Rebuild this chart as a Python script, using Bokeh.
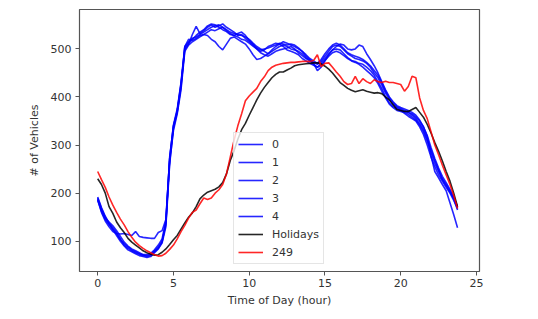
from bokeh.plotting import figure
from bokeh.models import Legend, LegendItem, FixedTicker, Range1d
from bokeh.embed import file_html
from bokeh.resources import INLINE

# time grid (15-minute bins)
hours = [i * 0.25 for i in range(96)]

blue0 = [192, 170, 152, 138, 128, 118, 105, 92, 85, 80, 76, 73, 70, 70, 72, 80,
         88, 100, 135, 275, 340, 370, 420, 505, 515, 522, 525, 530, 535, 540, 545, 548,
         550, 545, 540, 535, 532, 530, 528, 525, 520, 512, 505, 500, 495, 490, 495, 500,
         505, 508, 505, 500, 498, 495, 490, 482, 476, 472, 468, 474, 485, 495, 505, 508,
         505, 498, 490, 485, 480, 478, 475, 470, 462, 450, 440, 425, 408, 395, 385, 378,
         374, 370, 368, 362, 355, 345, 332, 312, 290, 268, 248, 230, 218, 205, 188, 165]

blue1 = [188, 165, 148, 140, 132, 122, 110, 98, 90, 84, 80, 76, 72, 68, 70, 78,
         85, 96, 130, 260, 335, 368, 425, 498, 510, 530, 547, 532, 538, 545, 550, 545,
         548, 552, 545, 540, 535, 528, 530, 522, 515, 508, 500, 495, 498, 505, 508, 512,
         510, 505, 498, 495, 492, 488, 480, 475, 470, 466, 462, 470, 480, 490, 498, 500,
         498, 490, 482, 476, 474, 470, 468, 462, 455, 445, 432, 418, 400, 388, 380, 376,
         372, 366, 360, 355, 350, 338, 322, 300, 275, 255, 238, 225, 212, 200, 185, 168]

blue2 = [186, 160, 142, 130, 120, 116, 115, 116, 114, 112, 120, 110, 108, 107, 106, 106,
         118, 122, 145, 270, 342, 375, 430, 505, 520, 518, 522, 528, 530, 535, 540, 538,
         542, 545, 538, 532, 528, 525, 520, 518, 512, 506, 500, 492, 488, 485, 490, 495,
         498, 500, 502, 505, 500, 492, 486, 480, 475, 468, 462, 466, 476, 485, 492, 495,
         492, 486, 480, 475, 472, 468, 462, 455, 448, 440, 428, 412, 398, 385, 378, 372,
         370, 368, 364, 358, 352, 342, 328, 308, 285, 262, 245, 228, 215, 202, 190, 170]

blue3 = [190, 168, 150, 136, 124, 112, 100, 90, 82, 78, 74, 70, 68, 66, 68, 76,
         84, 98, 138, 265, 330, 365, 415, 495, 508, 515, 520, 525, 530, 528, 520, 515,
         505, 498, 510, 522, 525, 520, 515, 510, 500, 488, 478, 480, 485, 490, 498, 505,
         510, 515, 512, 508, 505, 500, 495, 488, 480, 475, 470, 478, 490, 500, 508, 512,
         508, 500, 492, 488, 485, 482, 478, 472, 465, 455, 445, 430, 412, 398, 388, 380,
         376, 372, 368, 365, 358, 350, 338, 318, 278, 245, 232, 218, 205, 180, 155, 128]

blue4 = [185, 162, 145, 135, 125, 115, 103, 95, 88, 82, 78, 74, 72, 72, 75, 82,
         92, 105, 142, 272, 338, 372, 428, 502, 512, 520, 528, 535, 540, 548, 552, 550,
         545, 540, 536, 530, 528, 532, 535, 528, 518, 510, 502, 498, 500, 502, 505, 508,
         512, 510, 508, 510, 508, 502, 495, 485, 478, 470, 455, 462, 475, 488, 498, 505,
         510, 508, 500, 498, 500, 508, 505, 490, 478, 465, 450, 432, 415, 400, 390, 382,
         378, 375, 372, 368, 362, 352, 338, 320, 295, 272, 252, 235, 222, 208, 192, 172]

holidays = [230, 218, 200, 172, 158, 140, 128, 118, 106, 98, 92, 86, 80, 76, 73, 71,
            72, 77, 84, 93, 103, 112, 125, 138, 150, 159, 172, 188, 196, 202, 205, 208,
            213, 222, 240, 268, 288, 312, 332, 345, 362, 378, 394, 408, 420, 430, 440, 447,
            452, 452, 456, 460, 465, 467, 468, 469, 470, 471, 471, 469, 464, 458, 450, 440,
            430, 424, 418, 414, 411, 413, 415, 412, 410, 408, 409, 407, 400, 394, 384, 374,
            372, 370, 370, 374, 378, 368, 358, 343, 325, 305, 287, 267, 245, 225, 200, 172]

day249 = [245, 228, 212, 192, 175, 160, 146, 134, 120, 108, 98, 91, 85, 80, 76, 72,
          69, 70, 75, 83, 92, 105, 120, 133, 148, 160, 165, 178, 190, 187, 190, 200,
          207, 218, 240, 275, 310, 340, 365, 392, 402, 410, 418, 432, 442, 455, 462, 466,
          468, 470, 471, 472, 472, 473, 474, 474, 474, 476, 488, 463, 470, 471, 462, 452,
          443, 432, 426, 428, 443, 428, 438, 432, 428, 436, 432, 430, 433, 430, 430, 428,
          426, 412, 422, 443, 440, 398, 372, 355, 328, 300, 280, 258, 238, 218, 195, 168]

series_names = ["0", "1", "2", "3", "4", "Holidays", "249"]
series_values = [blue0, blue1, blue2, blue3, blue4, holidays, day249]
series_colors = ["#0000ff"] * 5 + ["#000000", "#ff0000"]

x_ticks = [0, 5, 10, 15, 20, 25]
y_ticks = [100, 200, 300, 400, 500]

FONT = "DejaVu Sans"
TXT = "#333333"

p = figure(frame_width=400, frame_height=262, output_backend="svg", toolbar_location=None,
           x_range=Range1d(-1.2, 25.2), y_range=Range1d(37, 582),
           min_border_left=79, min_border_top=9, min_border_right=40, min_border_bottom=36,
           background_fill_color="white", border_fill_color="white")
p.grid.visible = False
p.outline_line_color = "#555555"
p.outline_line_width = 1.2

items = []
for name, vals, col in zip(series_names, series_values, series_colors):
    r = p.line(hours, vals, line_color=col, line_width=1.6, line_alpha=0.85)
    items.append(LegendItem(label=name, renderers=[r]))

for ax in (p.xaxis[0], p.yaxis[0]):
    ax.axis_line_color = None
    ax.major_tick_line_color = "#555555"
    ax.major_tick_in = 0
    ax.major_tick_out = 4
    ax.minor_tick_line_color = None
    ax.major_label_text_font = FONT
    ax.major_label_text_font_size = "11px"
    ax.major_label_text_color = TXT
    ax.axis_label_text_font = FONT
    ax.axis_label_text_font_size = "11px"
    ax.axis_label_text_font_style = "normal"
    ax.axis_label_text_color = TXT

p.xaxis.ticker = FixedTicker(ticks=x_ticks)
p.yaxis.ticker = FixedTicker(ticks=y_ticks)
p.xaxis.axis_label = "Time of Day (hour)"
p.yaxis.axis_label = "# of Vehicles"
p.xaxis.major_label_standoff = 3
p.xaxis.axis_label_standoff = 4
p.yaxis.major_label_standoff = 4
p.yaxis.axis_label_standoff = 7

legend = Legend(items=items, location=(154, 7), margin=0, padding=4, spacing=4,
                glyph_width=25, glyph_height=14, label_standoff=9,
                label_text_font=FONT, label_text_font_size="11px", label_text_color=TXT,
                label_height=14,
                border_line_color="#cccccc", border_line_width=1,
                background_fill_color="white", background_fill_alpha=0.8)
p.add_layout(legend, "center")

open("out.html", "w").write(file_html(p, INLINE))
